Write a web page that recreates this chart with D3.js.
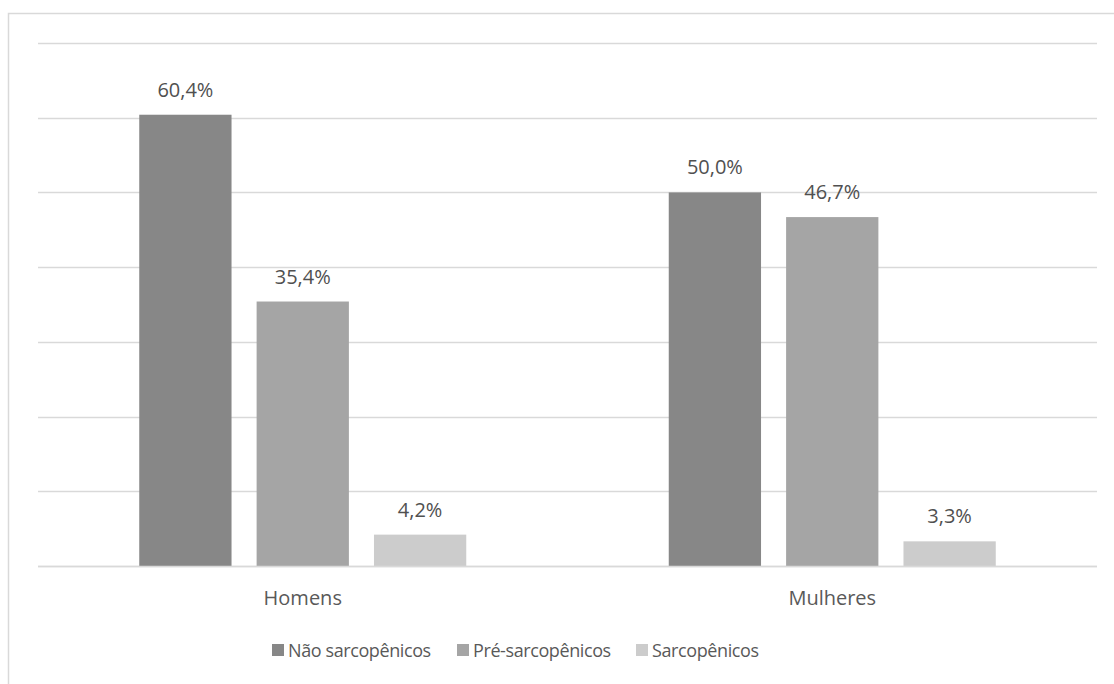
<!DOCTYPE html>
<html>
<head>
<meta charset="utf-8">
<script src="https://cdn.jsdelivr.net/npm/d3@7"></script>
<style>
  html, body { margin: 0; padding: 0; background: #fff; }
  svg { display: block; font-family: "Open Sans", "Noto Sans", sans-serif; }
</style>
</head>
<body>
<svg id="chart" width="1114" height="684"></svg>
<script>
// Sarcopenia status by sex (%)
const groups = ["Homens", "Mulheres"];
const seriesNames = ["Não sarcopênicos", "Pré-sarcopênicos", "Sarcopênicos"];
const naoSarcopenicos = [60.4, 50.0];
const preSarcopenicos = [35.4, 46.7];
const sarcopenicos = [4.2, 3.3];
const seriesColors = ["#878787", "#a5a5a5", "#cccccc"];
const yTicks = [0, 10, 20, 30, 40, 50, 60, 70];

const seriesValues = [naoSarcopenicos, preSarcopenicos, sarcopenicos];

const svg = d3.select("#chart");
const W = 1114, H = 684;
const margin = { left: 38, right: 17, top: 43, bottom: 118 };

// chart area frame
svg.append("rect")
  .attr("x", 8.5).attr("y", 13.5)
  .attr("width", W + 20).attr("height", H + 20)
  .attr("fill", "none").attr("stroke", "#d9d9d9").attr("stroke-width", 1.5);

const x0 = d3.scaleBand()
  .domain(groups)
  .range([margin.left, W - margin.right])
  .paddingInner(0).paddingOuter(0);

// bar placement within each category: 92px bars with 25px gaps
const groupSpan = 327 / 529.5;
const x1 = d3.scaleBand()
  .domain(seriesNames)
  .range([0, x0.bandwidth() * groupSpan])
  .paddingInner(25 / 117)
  .paddingOuter(0);

const y = d3.scaleLinear()
  .domain([0, 70])
  .range([H - margin.bottom, margin.top]);

// horizontal gridlines
svg.append("g")
  .selectAll("line")
  .data(yTicks)
  .join("line")
  .attr("x1", margin.left).attr("x2", W - margin.right)
  .attr("y1", d => Math.round(y(d)) + 0.5)
  .attr("y2", d => Math.round(y(d)) + 0.5)
  .attr("stroke", "#d9d9d9")
  .attr("stroke-width", 1.5);

// bars with value labels
const fmt = v => d3.format(".1f")(v).replace(".", ",") + "%";

groups.forEach((g, gi) => {
  const gx = x0(g) + (x0.bandwidth() - x0.bandwidth() * groupSpan) / 2;
  const gEl = svg.append("g").attr("transform", `translate(${gx},0)`);
  seriesNames.forEach((s, si) => {
    const v = seriesValues[si][gi];
    gEl.append("rect")
      .attr("x", x1(s))
      .attr("y", y(v))
      .attr("width", x1.bandwidth())
      .attr("height", y(0) - y(v))
      .attr("fill", seriesColors[si]);
    gEl.append("text")
      .attr("x", x1(s) + x1.bandwidth() / 2)
      .attr("y", y(v) - 18)
      .attr("text-anchor", "middle")
      .attr("font-size", 20)
      .attr("fill", "#505050")
      .text(fmt(v));
  });
});

// baseline
svg.append("line")
  .attr("x1", margin.left).attr("x2", W - margin.right)
  .attr("y1", Math.round(y(0)) + 0.5).attr("y2", Math.round(y(0)) + 0.5)
  .attr("stroke", "#d9d9d9").attr("stroke-width", 1.5);

// category axis labels
const xAxis = d3.axisBottom(x0).tickSize(0).tickPadding(0);
const axG = svg.append("g")
  .attr("transform", `translate(0,${y(0) + 39})`)
  .call(xAxis);
axG.select(".domain").remove();
axG.selectAll("text")
  .attr("font-size", 20)
  .attr("font-family", "Open Sans, Noto Sans, sans-serif")
  .attr("fill", "#595959")
  .attr("y", 0)
  .attr("dy", 0);

// legend
const legendItems = [
  { name: seriesNames[0], x: 272 },
  { name: seriesNames[1], x: 457 },
  { name: seriesNames[2], x: 636 }
];
const lg = svg.append("g");
legendItems.forEach((it, i) => {
  lg.append("rect")
    .attr("x", it.x).attr("y", 644)
    .attr("width", 12).attr("height", 12)
    .attr("fill", seriesColors[i]);
  lg.append("text")
    .attr("x", it.x + 16).attr("y", 657)
    .attr("font-size", 18)
    .attr("letter-spacing", -0.4)
    .attr("fill", "#595959")
    .text(it.name);
});
</script>
</body>
</html>
